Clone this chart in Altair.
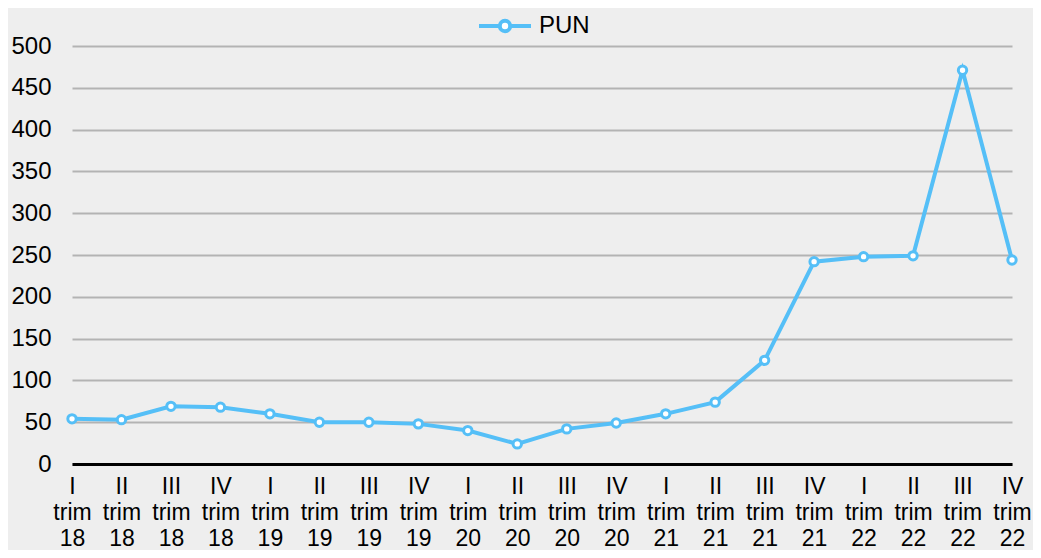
import altair as alt
import pandas as pd

quarters = ["I trim 18", "II trim 18", "III trim 18", "IV trim 18",
            "I trim 19", "II trim 19", "III trim 19", "IV trim 19",
            "I trim 20", "II trim 20", "III trim 20", "IV trim 20",
            "I trim 21", "II trim 21", "III trim 21", "IV trim 21",
            "I trim 22", "II trim 22", "III trim 22", "IV trim 22"]
pun = [54, 53, 69, 68, 60, 50, 50, 48, 40, 24, 42, 49,
       60, 74, 124, 242, 248, 249, 471, 244]
series = ["PUN"] * len(quarters)

df = pd.DataFrame({"quarter": quarters, "value": pun, "series": series})

BLUE = "#55bff7"
FONT = "Liberation Sans"

x = alt.X("quarter:N", sort=quarters, title=None,
          scale=alt.Scale(type="point", padding=0),
          axis=alt.Axis(labelAngle=0, labelExpr="split(datum.label, ' ')",
                        labelFontSize=23, labelColor="#000000", labelFont=FONT,
                        labelLineHeight=26, labelPadding=11, ticks=False,
                        domain=True, domainColor="#000000", domainWidth=3,
                        grid=False, labelBaseline="top"))
y = alt.Y("value:Q", title=None,
          scale=alt.Scale(domain=[0, 500], nice=False),
          axis=alt.Axis(values=list(range(0, 501, 50)), labelFontSize=24,
                        labelColor="#000000", labelFont=FONT, labelPadding=21,
                        ticks=False, domain=False, grid=True,
                        gridColor="#b3b3b3", gridWidth=2))

color = alt.Color("series:N", title=None,
                  scale=alt.Scale(range=[BLUE]),
                  legend=alt.Legend(orient="none", legendX=405, legendY=-48,
                                    direction="horizontal",
                                    symbolType="M-1,0L-0.2,0M0.2,0L1,0M-0.2,0A0.2,0.2 0 1,1 0.2,0A0.2,0.2 0 1,1 -0.2,0",
                                    symbolSize=2704, symbolStrokeWidth=4,
                                    symbolFillColor="#ffffff",
                                    symbolStrokeColor=BLUE,
                                    labelFontSize=24, labelFont=FONT,
                                    labelColor="#000000", labelOffset=6))

line = alt.Chart(df).mark_line(strokeWidth=4).encode(x=x, y=y, color=color)
pts = alt.Chart(df).mark_point(filled=False, size=70, strokeWidth=3,
                               fill="#ffffff", fillOpacity=1).encode(
    x=x, y=y, color=alt.Color("series:N", scale=alt.Scale(range=[BLUE]), legend=None))

chart = alt.layer(line, pts).properties(
    width=940, height=418,
    autosize=alt.AutoSizeParams(type="none"),
    padding={"left": 64, "top": 38, "right": 21, "bottom": 86},
    background="#eeeeee",
).configure_view(stroke=None)

chart.save("out.html", embed_options={"renderer": "svg", "actions": False})
